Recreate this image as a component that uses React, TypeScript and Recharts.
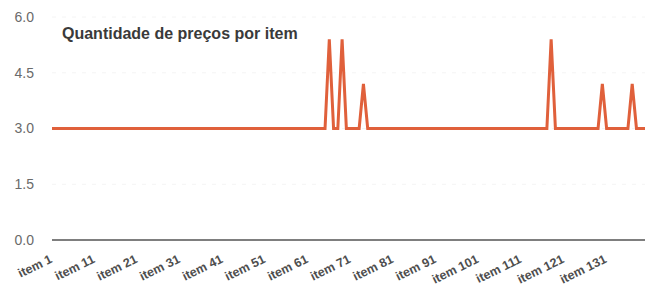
import React from "react";
import { LineChart, Line, XAxis, YAxis, CartesianGrid } from "recharts";

const itemLabels: string[] = Array.from({ length: 140 }, (_, i) => `item ${i + 1}`);

const priceCounts: number[] = [
  3, 3, 3, 3, 3, 3, 3, 3, 3, 3,
  3, 3, 3, 3, 3, 3, 3, 3, 3, 3,
  3, 3, 3, 3, 3, 3, 3, 3, 3, 3,
  3, 3, 3, 3, 3, 3, 3, 3, 3, 3,
  3, 3, 3, 3, 3, 3, 3, 3, 3, 3,
  3, 3, 3, 3, 3, 3, 3, 3, 3, 3,
  3, 3, 3, 3, 3, 5.4, 3, 3, 5.4, 3,
  3, 3, 3, 4.2, 3, 3, 3, 3, 3, 3,
  3, 3, 3, 3, 3, 3, 3, 3, 3, 3,
  3, 3, 3, 3, 3, 3, 3, 3, 3, 3,
  3, 3, 3, 3, 3, 3, 3, 3, 3, 3,
  3, 3, 3, 3, 3, 3, 3, 5.4, 3, 3,
  3, 3, 3, 3, 3, 3, 3, 3, 3, 4.2,
  3, 3, 3, 3, 3, 3, 4.2, 3, 3, 3,
];

const yTicks: number[] = [0, 1.5, 3, 4.5, 6];

const title = "Quantidade de preços por item";

const data = itemLabels.map((name, i) => ({ name, value: priceCounts[i] }));

const RotatedTick = (props: any) => {
  const { x, y, payload } = props;
  return (
    <g transform={`translate(${x + 1},${y + 14}) rotate(-26)`}>
      <text
        x={0}
        y={0}
        textAnchor="end"
        fontSize={12.5}
        fontWeight="bold"
        fill="#4e4e4e"
        fontFamily="'Liberation Sans', Arial, sans-serif"
      >
        {payload.value}
      </text>
    </g>
  );
};

export default function App() {
  return (
    <div
      style={{
        position: "absolute",
        left: 0,
        top: 0,
        width: 647,
        height: 287,
        background: "#ffffff",
        fontFamily: "'Liberation Sans', Arial, sans-serif",
      }}
    >
      <LineChart
        width={647}
        height={287}
        data={data}
        margin={{ top: 17, right: 2, bottom: 0, left: 0 }}
      >
        <CartesianGrid vertical={false} stroke="#f4f4f4" strokeDasharray="4 6" />
        <XAxis
          dataKey="name"
          interval={9}
          tickLine={false}
          axisLine={{ stroke: "#555555", strokeWidth: 1.5 }}
          height={47}
          tickMargin={2}
          tick={<RotatedTick />}
        />
        <YAxis
          domain={[0, 6]}
          ticks={yTicks}
          tickFormatter={(v: number) => v.toFixed(1)}
          axisLine={false}
          tickLine={false}
          width={52}
          tickMargin={12}
          tick={{ fontSize: 14, fill: "#6a6a6a", fontFamily: "'Liberation Sans', Arial, sans-serif" }}
        />
        <Line
          type="linear"
          dataKey="value"
          stroke="#E0603B"
          strokeWidth={3}
          dot={false}
          isAnimationActive={false}
        />
      </LineChart>
      <div
        style={{
          position: "absolute",
          left: 62,
          top: 26,
          fontSize: 16,
          fontWeight: "bold",
          color: "#3a3a3a",
          whiteSpace: "nowrap",
          lineHeight: "16px",
        }}
      >
        {title}
      </div>
    </div>
  );
}
